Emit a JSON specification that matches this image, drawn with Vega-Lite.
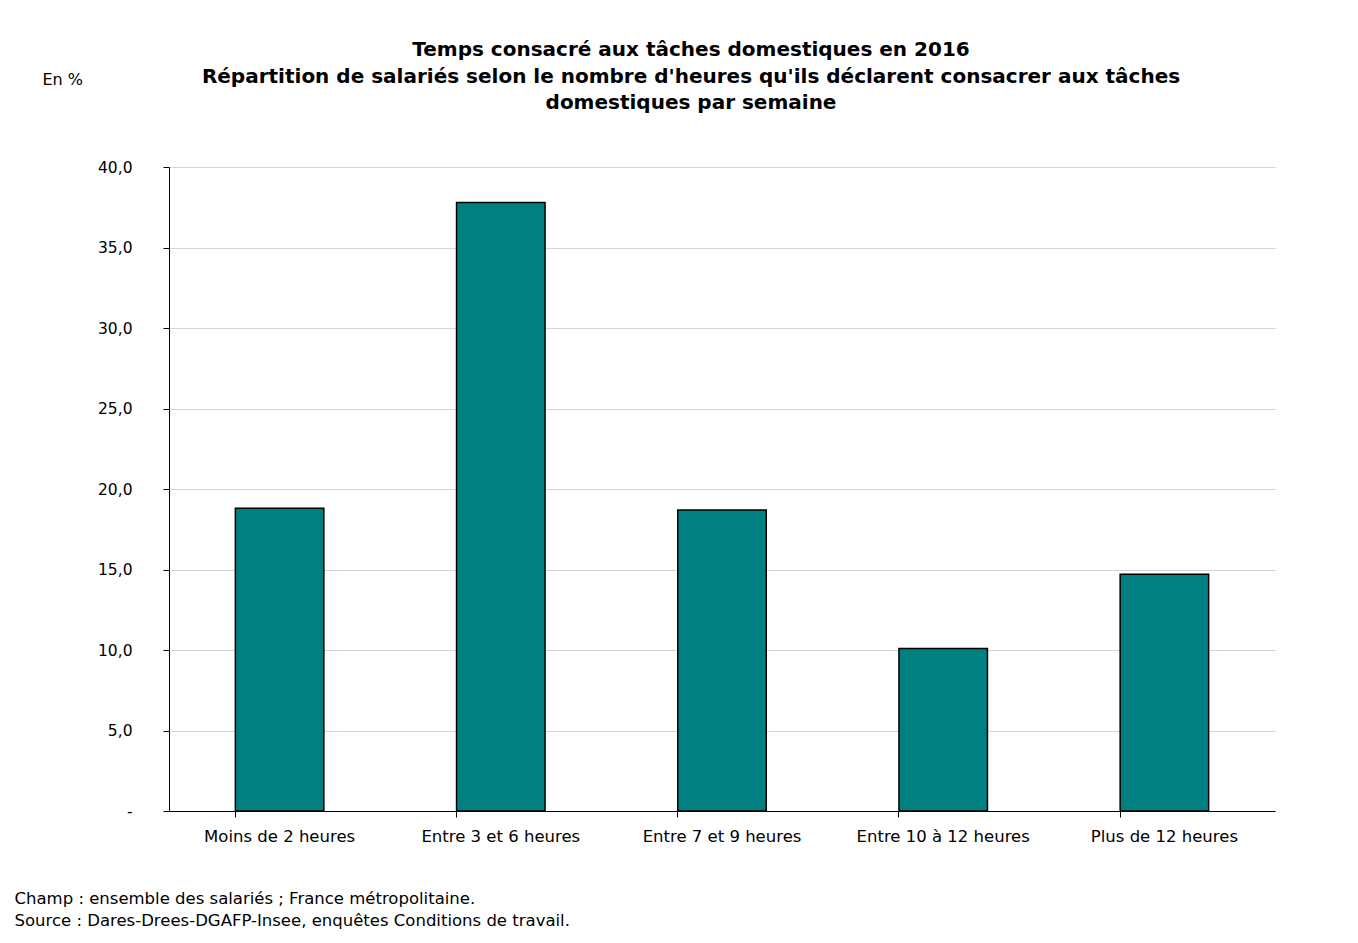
{
  "$schema": "https://vega.github.io/schema/vega-lite/v6.json",
  "autosize": {"type": "none"},
  "width": 1106,
  "height": 644,
  "padding": {"left": 169, "top": 167, "right": 83, "bottom": 132},
  "background": "white",
  "title": {
    "text": ["Temps consacré aux tâches domestiques en 2016", "Répartition de salariés selon le nombre d'heures qu'ils déclarent consacrer aux tâches", "domestiques par semaine"],
    "font": "DejaVu Sans",
    "fontSize": 20,
    "fontWeight": "bold",
    "color": "black",
    "anchor": "middle",
    "dx": -31,
    "lineHeight": 26.5,
    "offset": -42
  },
  "data": {
    "values": [
      {"categorie": "Moins de 2 heures", "pct": 18.8},
      {"categorie": "Entre 3 et 6 heures", "pct": 37.8},
      {"categorie": "Entre 7 et 9 heures", "pct": 18.7},
      {"categorie": "Entre 10 à 12 heures", "pct": 10.1},
      {"categorie": "Plus de 12 heures", "pct": 14.7}
    ]
  },
  "mark": {"type": "bar", "fill": "#008080", "stroke": "black", "strokeWidth": 1.5},
  "encoding": {
    "x": {
      "field": "categorie",
      "type": "nominal",
      "sort": null,
      "scale": {"paddingInner": 0.6, "paddingOuter": 0.3},
      "axis": {
        "title": ["Champ : ensemble des salariés ; France métropolitaine.", "Source : Dares-Drees-DGAFP-Insee, enquêtes Conditions de travail."],
        "titleFont": "DejaVu Sans",
        "titleFontSize": 16.5,
        "titleFontWeight": "normal",
        "titleColor": "black",
        "titleAlign": "left",
        "titleAnchor": "start",
        "titleBaseline": "middle",
        "titleLineHeight": 22,
        "titleX": -155,
        "titleY": 87,
        "labelAngle": 0,
        "labelFont": "DejaVu Sans",
        "labelFontSize": 16.5,
        "labelColor": "black",
        "labelPadding": 11,
        "bandPosition": 0,
        "tickColor": "black",
        "tickSize": 6,
        "domainColor": "black",
        "grid": false
      }
    },
    "y": {
      "field": "pct",
      "type": "quantitative",
      "scale": {"domain": [0, 40], "nice": false},
      "axis": {
        "title": "En %",
        "titleFont": "DejaVu Sans",
        "titleFontSize": 16,
        "titleFontWeight": "normal",
        "titleColor": "black",
        "titleAngle": 0,
        "titleAlign": "left",
        "titleBaseline": "middle",
        "titleX": -127,
        "titleY": -88,
        "values": [0, 5, 10, 15, 20, 25, 30, 35, 40],
        "labelExpr": "datum.value == 0 ? '-\u00a0\u00a0' : replace(format(datum.value, '.1f'), '.', ',')",
        "labelFont": "DejaVu Sans",
        "labelFontSize": 15.5,
        "labelColor": "black",
        "labelPadding": 31,
        "tickColor": "black",
        "tickSize": 6,
        "domainColor": "black",
        "gridColor": "#d4d4d4"
      }
    }
  },
  "config": {"view": {"stroke": null}}
}
